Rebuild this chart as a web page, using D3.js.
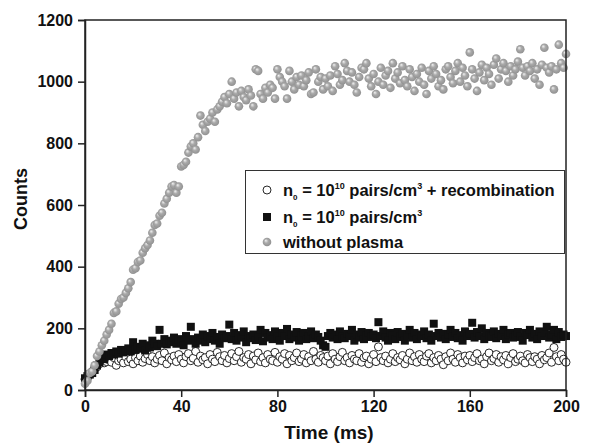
<!DOCTYPE html>
<html>
<head>
<meta charset="utf-8">
<script src="https://cdn.jsdelivr.net/npm/d3@7"></script>
<style>
  html, body { margin: 0; padding: 0; background: #fff; }
  svg { display: block; }
  text { font-family: "Liberation Sans", Arial, Helvetica, sans-serif; font-weight: bold; fill: #111; }
</style>
</head>
<body>
<script>
// ---- data ----
const xTicks = [0, 40, 80, 120, 160, 200];
const yTicks = [0, 200, 400, 600, 800, 1000, 1200];
const xLabel = "Time (ms)";
const yLabel = "Counts";

// time axis: one sample per ms, 0..200
const timeMs = d3.range(0, 201);

// "without plasma" (grey spheres)
const withoutPlasma = [
  20, 30, 55, 60, 80, 110, 125, 145, 160, 180,
  195, 215, 250, 255, 280, 295, 300, 315, 330, 350,
  390, 395, 415, 420, 445, 460, 470, 485, 510, 535,
  540, 565, 575, 605, 620, 640, 660, 665, 640, 660,
  725, 730, 740, 770, 790, 800, 780, 820, 890, 860,
  840, 870, 880, 900, 870, 910, 920, 935, 950, 930,
  960, 1000, 945, 965, 920, 970, 950, 940, 975, 955,
  920, 1040, 1035, 960, 945, 980, 965, 990, 980, 945,
  1040, 1015, 1000, 985, 945, 1035, 1000, 975, 1015, 990,
  1020, 985, 1005, 1030, 960, 965, 1040, 1000, 1015, 975,
  1010, 985, 1020, 970, 1050, 1025, 990, 1005, 1060, 1035,
  1000, 1030, 990, 965, 1015, 1045, 1040, 1060, 1010, 985,
  1025, 960, 1000, 1045, 990, 1020, 1035, 980, 1060, 1010,
  1030, 995, 1050, 1005, 985, 1040, 1015, 970, 1025, 1000,
  1045, 990, 960, 1035, 1010, 1050, 1025, 985, 1005, 975,
  1040, 1050, 1015, 995, 1035, 1060, 1000, 1045, 1020, 985,
  1095, 1040, 1010, 970, 1030, 1055, 1005, 1045, 1025, 990,
  1055, 1075, 1010, 1040, 1060, 1035, 1000, 1050, 1020, 1040,
  1065, 1105, 1045, 1020, 1050, 1035, 1060, 1010, 1040, 990,
  1055, 1110, 1045, 1030, 1050, 975, 1040, 1120, 1060, 1045,
  1090
];

// n0 = 10^10 pairs/cm^3 (black squares)
const plasma = [
  38, 45, 50, 55, 65, 80, 90, 105, 100, 115,
  110, 120, 115, 125, 118, 130, 122, 128, 135, 125,
  155, 130, 140, 135, 150, 128, 145, 138, 160, 150,
  142, 195, 150, 165, 148, 160, 155, 170, 150, 165,
  158, 145, 175, 160, 205, 165, 150, 170, 160, 180,
  155, 175, 165, 185, 160, 172, 150, 180, 168, 175,
  212, 165, 185, 160, 178, 170, 190, 155, 175, 168,
  180, 162, 175, 195, 158, 185, 170, 178, 165, 190,
  172, 160, 185, 175, 198, 165, 180, 170, 188, 160,
  178, 185, 165, 175, 190, 168, 180, 172, 160, 145,
  140, 175, 185, 170, 180, 165, 190, 175, 168, 182,
  175, 195, 160, 180, 170, 188, 165, 178, 185, 172,
  180, 168, 220, 175, 190, 170, 160, 185, 178, 165,
  188, 172, 182, 160, 178, 195, 170, 185, 165, 180,
  175, 190, 168, 180, 160, 215, 175, 185, 170, 182,
  165, 180, 195, 172, 185, 168, 178, 160, 190, 175,
  182, 218, 170, 188, 175, 200, 165, 185, 178, 172,
  190, 168, 182, 175, 195, 165, 180, 185, 170, 178,
  188, 172, 160, 185, 178, 195, 170, 182, 165, 190,
  175, 185, 205, 170, 180, 195, 165, 188, 172, 180,
  175
];

// n0 = 10^10 pairs/cm^3 + recombination (open circles)
const plasmaRecomb = [
  35, 42, 50, 60, 68, 75, 85, 95, 88, 92,
  98, 90, 105, 80, 95, 100, 88, 108, 92, 100,
  85, 105, 95, 110, 90, 102, 115, 95, 108, 88,
  100, 112, 95, 120, 85, 105, 98, 110, 92, 115,
  100, 88, 108, 118, 95, 103, 125, 90, 110, 98,
  105, 85, 115, 100, 92, 122, 108, 95, 112, 88,
  102, 118, 95, 108, 125, 90, 105, 100, 115, 85,
  110, 98, 120, 92, 105, 88, 115, 100, 95, 122,
  90, 108, 100, 118, 85, 112, 95, 105, 120, 92,
  100, 115, 88, 108, 95, 125, 100, 90, 112, 105,
  95, 110, 85, 118, 100, 92, 108, 122, 95, 105,
  88, 112, 100, 95, 118, 90, 105, 110, 85, 100,
  115, 92, 140, 105, 95, 110, 88, 100, 118, 92,
  105, 98, 112, 85, 100, 120, 95, 108, 90, 115,
  100, 92, 110, 118, 88, 105, 95, 112, 100, 82,
  108, 95, 120, 100, 90, 115, 105, 88, 110, 98,
  112, 92, 105, 118, 95, 100, 85, 108, 120, 95,
  102, 115, 90, 108, 98, 112, 85, 105, 118, 92,
  100, 110, 95, 88, 115, 105, 92, 108, 100, 85,
  112, 98, 105, 120, 90, 138, 108, 95, 115, 100,
  90
];

// ---- drawing ----
const W = 598, H = 444;
const margin = { left: 85, right: 32, top: 20, bottom: 54 };

const svg = d3.select("body").append("svg")
  .attr("width", W).attr("height", H);

const defs = svg.append("defs");
const grad = defs.append("radialGradient")
  .attr("id", "sphere").attr("cx", "0.5").attr("cy", "0.5").attr("r", "0.6")
  .attr("fx", "0.35").attr("fy", "0.32");
grad.append("stop").attr("offset", "0%").attr("stop-color", "#f2f2f2");
grad.append("stop").attr("offset", "40%").attr("stop-color", "#aaaaaa");
grad.append("stop").attr("offset", "100%").attr("stop-color", "#8a8a8a");

const x = d3.scaleLinear().domain([0, 200]).range([margin.left, W - margin.right]);
const y = d3.scaleLinear().domain([0, 1200]).range([H - margin.bottom, margin.top]);

const plot = svg.append("g");

// open circles
plot.append("g").selectAll("circle")
  .data(timeMs.map((t, i) => [t, plasmaRecomb[i]]))
  .join("circle")
  .attr("cx", d => x(d[0])).attr("cy", d => y(d[1]))
  .attr("r", 4)
  .attr("fill", "#fff").attr("stroke", "#111").attr("stroke-width", 0.9);

// black squares
const sq = 8;
plot.append("g").selectAll("rect")
  .data(timeMs.map((t, i) => [t, plasma[i]]))
  .join("rect")
  .attr("x", d => x(d[0]) - sq / 2).attr("y", d => y(d[1]) - sq / 2)
  .attr("width", sq).attr("height", sq)
  .attr("fill", "#111");

// grey spheres
plot.append("g").selectAll("circle")
  .data(timeMs.map((t, i) => [t, withoutPlasma[i]]))
  .join("circle")
  .attr("cx", d => x(d[0])).attr("cy", d => y(d[1]))
  .attr("r", 4.3)
  .attr("fill", "url(#sphere)");

// frame
svg.append("rect")
  .attr("x", x(0)).attr("y", y(1200))
  .attr("width", x(200) - x(0)).attr("height", y(0) - y(1200))
  .attr("fill", "none").attr("stroke", "#222").attr("stroke-width", 1.5);

// axes
const xAxis = svg.append("g")
  .attr("transform", `translate(0,${y(0)})`)
  .call(d3.axisBottom(x).tickValues(xTicks).tickSize(7).tickPadding(4).tickFormat(d3.format("d")));
const yAxis = svg.append("g")
  .attr("transform", `translate(${x(0)},0)`)
  .call(d3.axisLeft(y).tickValues(yTicks).tickSize(7).tickPadding(5).tickFormat(d3.format("d")));
[xAxis, yAxis].forEach(a => {
  a.select(".domain").attr("stroke", "#222").attr("stroke-width", 1.5);
  a.selectAll(".tick line").attr("stroke", "#222").attr("stroke-width", 1.5);
  a.selectAll(".tick text")
    .style("font-family", '"Liberation Sans", Arial, sans-serif')
    .style("font-weight", "bold").style("font-size", "16px").attr("fill", "#111");
});

// axis titles
svg.append("text")
  .attr("x", 329).attr("y", 439)
  .attr("text-anchor", "middle")
  .style("font-size", "19px")
  .text(xLabel);
svg.append("text")
  .attr("transform", "translate(27,199) rotate(-90)")
  .attr("text-anchor", "middle")
  .style("font-size", "18px")
  .text(yLabel);

// legend
const lg = svg.append("g");
lg.append("rect")
  .attr("x", 245.5).attr("y", 170.5).attr("width", 319).attr("height", 83)
  .attr("fill", "#fff").attr("stroke", "#333").attr("stroke-width", 1);

const mx = 267, tx = 283;
const rows = [190, 217, 242];
lg.append("circle").attr("cx", mx).attr("cy", rows[0]).attr("r", 4)
  .attr("fill", "#fff").attr("stroke", "#111").attr("stroke-width", 0.9);
lg.append("rect").attr("x", mx - 4).attr("y", rows[1] - 4).attr("width", 8).attr("height", 8)
  .attr("fill", "#111");
lg.append("circle").attr("cx", mx).attr("cy", rows[2]).attr("r", 4.3)
  .attr("fill", "url(#sphere)");

function n0Label(yc, recomb) {
  const t = lg.append("text").attr("x", tx).attr("y", yc + 6).style("font-size", "16.5px");
  t.append("tspan").text("n");
  t.append("tspan").attr("dy", 4).style("font-size", "8px").text("0");
  t.append("tspan").attr("dy", -4).text(" = 10");
  t.append("tspan").attr("dy", -7).style("font-size", "9px").text("10");
  t.append("tspan").attr("dy", 7).text(" pairs/cm");
  t.append("tspan").attr("dy", -7).style("font-size", "9px").text("3");
  if (recomb) t.append("tspan").attr("dy", 7).text(" + recombination");
}
n0Label(rows[0], true);
n0Label(rows[1], false);
lg.append("text").attr("x", tx).attr("y", rows[2] + 6).style("font-size", "16.5px").text("without plasma");
</script>
</body>
</html>
